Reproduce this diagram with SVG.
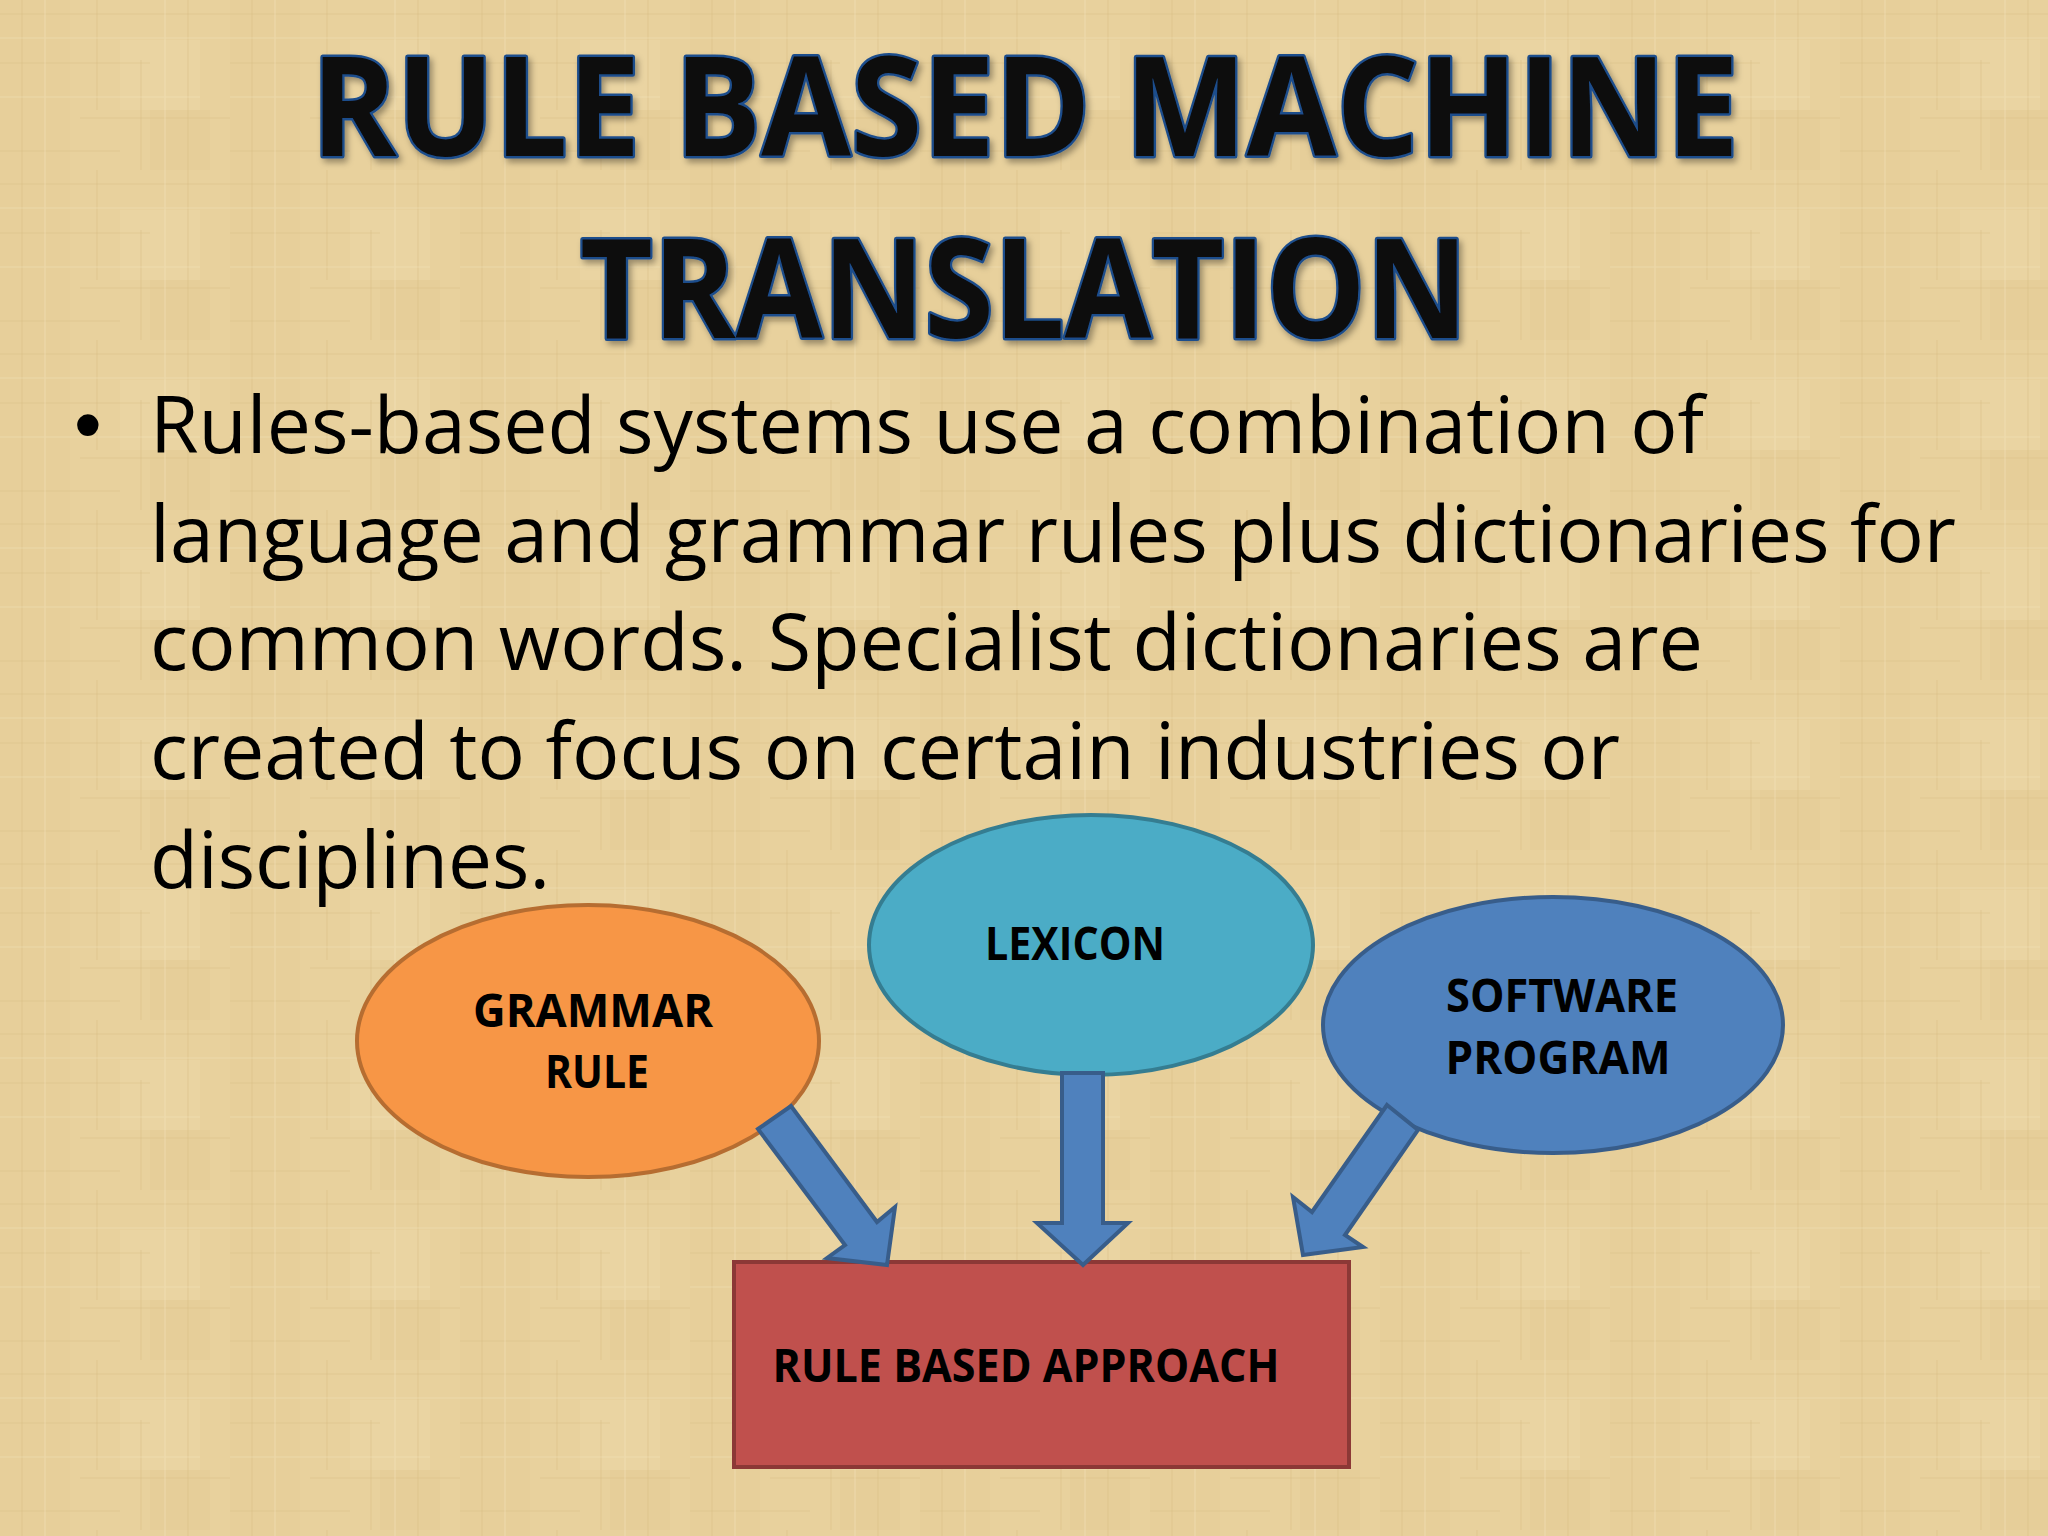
<svg xmlns="http://www.w3.org/2000/svg" width="2048" height="1536" viewBox="0 0 2048 1536">
  <style>
    .title{font-family:"Open Sans","Liberation Sans",sans-serif;font-weight:700;font-size:138px;fill:#0a0a0a;stroke:#1F4E8C;stroke-width:5px;paint-order:stroke;stroke-linejoin:round}
    .body{font-family:"Open Sans","Liberation Sans",sans-serif;font-size:79px;fill:#000}
    .lbl{font-family:"Open Sans","Liberation Sans",sans-serif;font-weight:700;font-size:46px;fill:#000;text-anchor:middle}
    .arrow{fill:#4F81BD;stroke:#385D8A;stroke-width:4;stroke-linejoin:miter}
  </style>
  <defs>
    <pattern id="tex" x="0" y="0" width="230" height="170" patternUnits="userSpaceOnUse">
      <rect width="230" height="170" fill="#E8D19D"/>
      <rect x="0" y="0" width="70" height="170" fill="#E2C88E" opacity="0.25"/>
      <rect x="120" y="40" width="80" height="70" fill="#F0DDB2" opacity="0.22"/>
      <rect x="150" y="110" width="60" height="60" fill="#DDC488" opacity="0.18"/>
      <path d="M0 14H230M0 63H150M80 118H230M0 151H120" stroke="#D8BD84" stroke-width="1.2" opacity="0.45"/>
      <path d="M22 0V170M97 0V110M141 60V170M188 0V170" stroke="#D5BA80" stroke-width="1.2" opacity="0.4"/>
      <path d="M0 38H230M0 97H200M45 0V170M165 0V170" stroke="#F3E3BC" stroke-width="1.2" opacity="0.45"/>
    </pattern>
    <filter id="sh" x="-5%" y="-5%" width="110%" height="120%">
      <feDropShadow dx="3" dy="4" stdDeviation="3" flood-color="#000" flood-opacity="0.35"/>
    </filter>
  </defs>

  <rect width="2048" height="1536" fill="url(#tex)"/>

  <g id="title" filter="url(#sh)">
    <text class="title" x="1025" y="156" text-anchor="middle" textLength="1428" lengthAdjust="spacingAndGlyphs">RULE BASED MACHINE</text>
    <text class="title" x="1024" y="338" text-anchor="middle" textLength="888" lengthAdjust="spacingAndGlyphs">TRANSLATION</text>
  </g>

  <g id="bullet-text">
    <text class="body" x="74" y="452" style="font-family:'Liberation Sans',sans-serif">•</text>
    <text class="body" x="150" y="453" textLength="1554" lengthAdjust="spacingAndGlyphs">Rules-based systems use a combination of</text>
    <text class="body" x="150" y="562" textLength="1806" lengthAdjust="spacingAndGlyphs">language and grammar rules plus dictionaries for</text>
    <text class="body" x="150" y="670" textLength="1553" lengthAdjust="spacingAndGlyphs">common words. Specialist dictionaries are</text>
    <text class="body" x="150" y="779" textLength="1470" lengthAdjust="spacingAndGlyphs">created to focus on certain industries or</text>
    <text class="body" x="150" y="888" textLength="400" lengthAdjust="spacingAndGlyphs">disciplines.</text>
  </g>

  <g id="grammar-rule">
    <ellipse cx="588" cy="1041" rx="231" ry="136" fill="#F79646" stroke="#B66D31" stroke-width="4"/>
    <text class="lbl" x="593" y="1027" textLength="240" lengthAdjust="spacingAndGlyphs">GRAMMAR</text>
    <text class="lbl" x="597" y="1088" textLength="104" lengthAdjust="spacingAndGlyphs">RULE</text>
  </g>

  <g id="lexicon">
    <ellipse cx="1091" cy="945" rx="222" ry="130" fill="#4BACC6" stroke="#357D91" stroke-width="4"/>
    <text class="lbl" x="1075" y="960" textLength="180" lengthAdjust="spacingAndGlyphs">LEXICON</text>
  </g>

  <g id="software-program">
    <ellipse cx="1553" cy="1025" rx="230" ry="128" fill="#4F81BD" stroke="#385D8A" stroke-width="4"/>
    <text class="lbl" x="1562" y="1012" textLength="232" lengthAdjust="spacingAndGlyphs">SOFTWARE</text>
    <text class="lbl" x="1558" y="1074" textLength="225" lengthAdjust="spacingAndGlyphs">PROGRAM</text>
  </g>

  <g id="rule-based-approach">
    <rect x="734" y="1262" width="615" height="205" fill="#C0504D" stroke="#8C3836" stroke-width="4"/>
    <text class="lbl" x="1026" y="1382" textLength="507" lengthAdjust="spacingAndGlyphs">RULE BASED APPROACH</text>
  </g>

  <g id="connectors">
    <polygon class="arrow" points="758,1129 791,1106 877,1222 895,1207 887,1265 827,1258 845,1245"/>
    <polygon class="arrow" points="1062,1073 1103,1073 1103,1223 1128,1223 1083,1265 1037,1223 1062,1223"/>
    <polygon class="arrow" points="1387,1105 1418,1130 1345,1235 1363,1247 1303,1255 1293,1197 1312,1212"/>
  </g>
</svg>
